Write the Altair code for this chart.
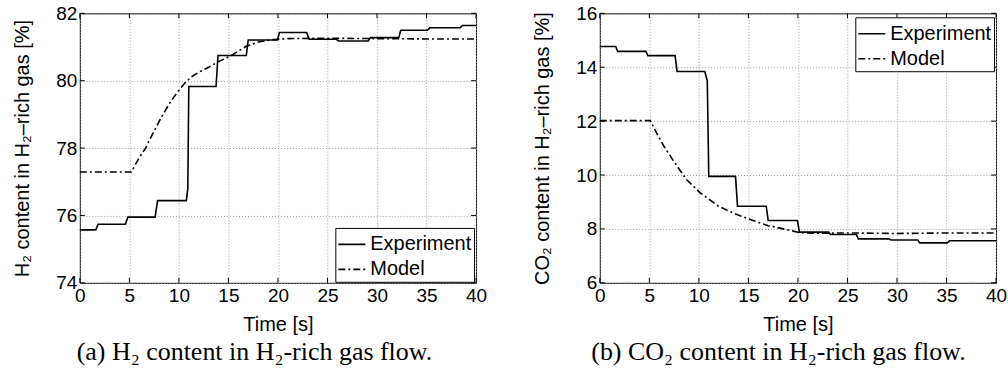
import altair as alt
import pandas as pd

# ---------------- data ----------------
time_ticks = [0, 5, 10, 15, 20, 25, 30, 35, 40]
h2_ticks = [74, 76, 78, 80, 82]
co2_ticks = [6, 8, 10, 12, 14, 16]
series_names = ["Experiment", "Model"]

h2_exp_t = [0, 1.6, 1.85, 4.6, 4.85, 7.6, 7.85, 10.75, 10.9, 11.0, 13.75, 13.95,
            16.8, 17.0, 19.95, 20.15, 22.9, 23.15, 25.9, 26.1, 29.1, 29.35,
            32.2, 32.4, 35.1, 35.3, 38.4, 38.6, 40]
h2_exp_v = [75.57, 75.57, 75.74, 75.74, 75.95, 75.95, 76.44, 76.44, 76.8, 79.83, 79.83, 80.75,
            80.75, 81.21, 81.21, 81.43, 81.43, 81.23, 81.23, 81.18, 81.18, 81.28,
            81.28, 81.5, 81.5, 81.57, 81.57, 81.64, 81.64]
h2_mod_t = [0, 5.2, 6.0, 6.6, 7.4, 8.3, 9.1, 9.9, 10.6, 11.3, 12.0, 13.0, 13.9, 14.6,
            15.3, 16.0, 16.8, 18.0, 19.5, 21.0, 25, 30, 35, 40]
h2_mod_v = [77.29, 77.29, 77.72, 77.98, 78.45, 78.95, 79.35, 79.68, 79.93, 80.12, 80.25,
            80.40, 80.55, 80.65, 80.75, 80.88, 81.02, 81.15, 81.22, 81.25, 81.26,
            81.25, 81.24, 81.24]

co2_exp_t = [0, 1.6, 1.8, 4.65, 4.85, 7.6, 7.8, 10.6, 10.85, 11.0, 13.7, 13.9, 16.8, 17.0,
             19.95, 20.15, 23.1, 23.3, 25.9, 26.1, 29.2, 29.4, 32.1, 32.3, 35.1, 35.3, 40]
co2_exp_v = [14.77, 14.77, 14.59, 14.59, 14.43, 14.43, 13.84, 13.84, 13.5, 9.95, 9.95, 8.84,
             8.84, 8.31, 8.31, 7.88, 7.88, 7.79, 7.79, 7.63, 7.63, 7.59, 7.59, 7.48,
             7.48, 7.56, 7.56]
co2_mod_t = [0, 5.1, 5.7, 6.5, 7.4, 8.7, 10.1, 11.9, 13.4, 15.4, 17.0, 18.8, 20.2, 22,
             25, 30, 35, 40]
co2_mod_v = [12.02, 12.02, 11.58, 11.05, 10.55, 9.85, 9.35, 8.86, 8.6, 8.32, 8.12, 7.98,
             7.86, 7.84, 7.85, 7.83, 7.85, 7.85]

SANS = "Liberation Sans"
SERIF = "Liberation Serif"
W, H = 397, 270


def panel(exp_t, exp_v, mod_t, mod_v, y_ticks, y_title, caption, legend_y, cap_x):
    df = pd.DataFrame({
        "t": exp_t + mod_t,
        "v": exp_v + mod_v,
        "series": [series_names[0]] * len(exp_t) + [series_names[1]] * len(mod_t),
        "idx": list(range(len(exp_t))) + list(range(len(mod_t))),
    })
    x = alt.X("t:Q",
              scale=alt.Scale(domain=[0, 40], nice=False, zero=False),
              axis=alt.Axis(values=time_ticks, title="Time [s]", labelFlush=False,
                            labelPadding=4, titleY=42, titleBaseline="middle"))
    y = alt.Y("v:Q",
              scale=alt.Scale(domain=[y_ticks[0], y_ticks[-1]], nice=False, zero=False),
              axis=alt.Axis(values=y_ticks, title=y_title, labelFlush=False,
                            labelPadding=3, titleX=-51, titleBaseline="alphabetic"))

    lines = alt.Chart(df).mark_line(strokeWidth=1.6, color="black").encode(
        x=x, y=y, order="idx:Q",
        strokeDash=alt.StrokeDash(
            "series:N",
            scale=alt.Scale(domain=series_names, range=[[1, 0], [7, 3, 2, 3]]),
            legend=alt.Legend(title=None, orient="none", legendX=256, legendY=legend_y,
                              strokeColor="black", fillColor="white", padding=2,
                              symbolType="stroke", symbolSize=729,
                              symbolStrokeWidth=1.6, symbolStrokeColor="black",
                              labelFont=SANS, labelFontSize=20, labelColor="black",
                              labelOffset=4, rowPadding=-2, cornerRadius=0)),
    )

    xt = pd.DataFrame({"t": time_ticks})
    yt = pd.DataFrame({"v": y_ticks})
    tick_top = alt.Chart(xt).mark_rule(color="black", strokeWidth=1).encode(
        x=x, y=alt.value(0), y2=alt.value(5))
    tick_bot = alt.Chart(xt).mark_rule(color="black", strokeWidth=1).encode(
        x=x, y=alt.value(H - 5), y2=alt.value(H))
    tick_left = alt.Chart(yt).mark_rule(color="black", strokeWidth=1).encode(
        y=y, x=alt.value(0), x2=alt.value(5))
    tick_right = alt.Chart(yt).mark_rule(color="black", strokeWidth=1).encode(
        y=y, x=alt.value(W - 5), x2=alt.value(W))

    cap = alt.Chart(pd.DataFrame({"c": [caption]})).mark_text(
        font=SERIF, fontSize=26, color="black", align="center", baseline="middle"
    ).encode(text="c:N", x=alt.value(cap_x), y=alt.value(339))

    return alt.layer(lines, tick_top, tick_bot, tick_left, tick_right, cap).properties(
        width=W, height=H)


left = panel(h2_exp_t, h2_exp_v, h2_mod_t, h2_mod_v, h2_ticks,
             "H₂ content in H₂–rich gas [%]",
             "(a) H₂ content in H₂-rich gas flow.", 215, 175)
right = panel(co2_exp_t, co2_exp_v, co2_mod_t, co2_mod_v, co2_ticks,
              "CO₂ content in H₂–rich gas [%]",
              "(b) CO₂ content in H₂-rich gas flow.", 4, 179)

chart = alt.hconcat(left, right, spacing=124, bounds="flush").resolve_scale(
    strokeDash="independent").resolve_legend(strokeDash="independent").properties(
    padding={"left": 12, "top": 3, "right": 0, "bottom": 0},
    background="white",
).configure_view(stroke="black", strokeWidth=1).configure_axis(
    labelFont=SANS, labelFontSize=19, labelColor="black",
    titleFont=SANS, titleFontSize=20, titleFontWeight="normal", titleColor="black",
    domain=False, ticks=False,
    grid=True, gridColor="#999999", gridDash=[1, 2], gridWidth=1, gridOpacity=1,
)

chart.save("out.html", embed_options={"renderer": "svg", "actions": False})
